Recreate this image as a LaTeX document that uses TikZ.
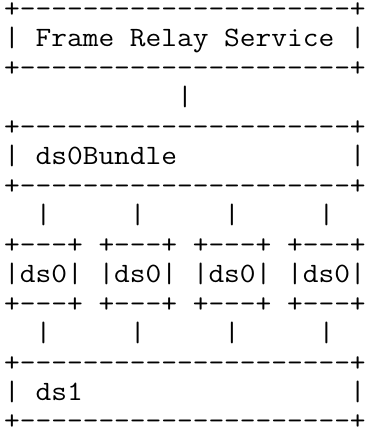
\documentclass[tikz,border=0pt]{standalone}
\usepackage{fontspec}
\newfontfamily\asciifont[FakeStretch=1.09]{Latin Modern Mono}
\begin{document}
\begin{tikzpicture}[x=1pt,y=-1pt,
    asciirow/.style={anchor=mid west,inner sep=0pt,text height=11pt,text depth=0pt,
        font=\asciifont\fontsize{28}{29.5}\selectfont}]
        %% page
        \fill[white] (0,0) rectangle (371,432);
        \useasboundingbox (0,0) rectangle (371,432);
        %% frame relay service
        \node[asciirow] (svctop) at (4,15.5)  {+---------------------+};
        \node[asciirow] (svc)    at (4,44.5)  {|~Frame~Relay~Service~|};
        \node[asciirow] (svcbot) at (4,74)    {+---------------------+};
        \node[asciirow] (link1)  at (4,103.5) {~~~~~~~~~~~|};
        %% ds0 bundle
        \node[asciirow] (bundletop) at (4,133)   {+---------------------+};
        \node[asciirow] (bundle)    at (4,162.5) {|~ds0Bundle~~~~~~~~~~~|};
        \node[asciirow] (bundlebot) at (4,192)   {+---------------------+};
        \node[asciirow] (link2)     at (4,221.5) {~~|~~~~~|~~~~~|~~~~~|};
        %% ds0s
        \node[asciirow] (dstop) at (4,251)   {+---+~+---+~+---+~+---+};
        \node[asciirow] (ds)    at (4,280.5) {|ds0|~|ds0|~|ds0|~|ds0|};
        \node[asciirow] (dsbot) at (4,310)   {+---+~+---+~+---+~+---+};
        \node[asciirow] (link3) at (4,339.5) {~~|~~~~~|~~~~~|~~~~~|};
        %% ds1
        \node[asciirow] (lowtop) at (4,369)   {+---------------------+};
        \node[asciirow] (low)    at (4,398.5) {|~ds1~~~~~~~~~~~~~~~~~|};
        \node[asciirow] (lowbot) at (4,427)   {+---------------------+};
\end{tikzpicture}
\end{document}
